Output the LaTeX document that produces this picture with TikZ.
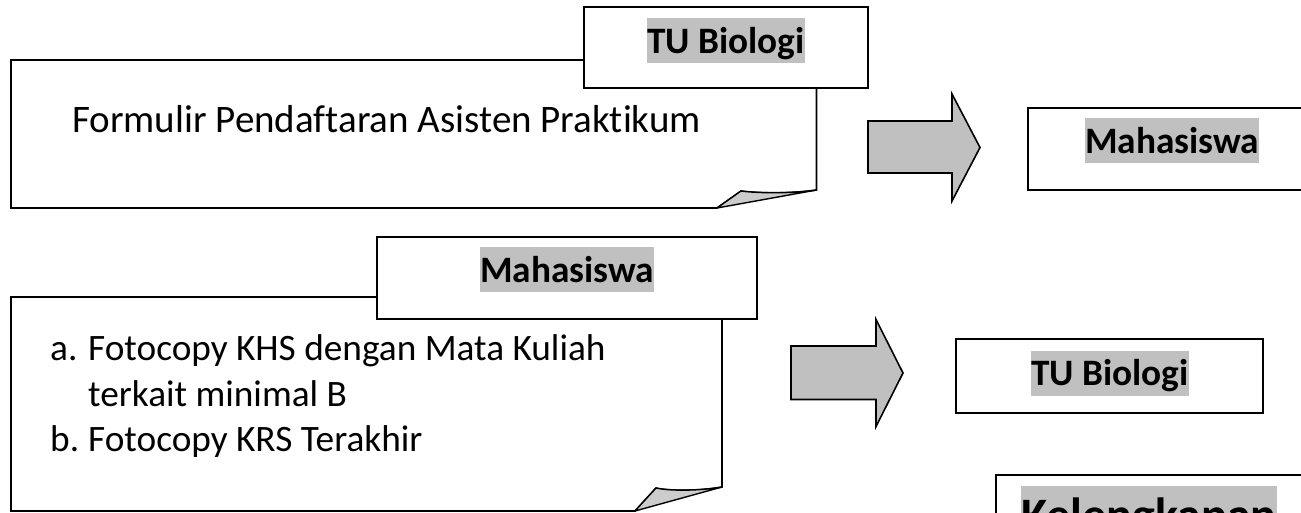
\documentclass[tikz,border=0pt]{standalone}
\usepackage{fontspec}
\setmainfont[Ligatures=CommonOff]{Carlito}
\definecolor{hl}{RGB}{192,192,192}
\definecolor{curl}{RGB}{204,204,204}
\begin{document}
\begin{tikzpicture}[x=1pt,y=-1pt,
  outline/.style={draw=black,line width=1.6pt,line join=miter},
  labelbox/.style={outline,fill=white},
  blockarrow/.style={outline,fill=hl},
  curlfold/.style={draw=black,line width=1.4pt,fill=curl,line join=round},
  hltext/.style={fill=hl,inner sep=0pt,anchor=base west,text height=35pt,text depth=10pt,font=\fontsize{37.3}{45.5}\selectfont\bfseries},
  bodytext/.style={inner sep=0pt,anchor=base west,font=\fontsize{37.3}{45.5}\selectfont}]
\useasboundingbox (0,0) rectangle (1301,512);
\clip (0,0) rectangle (1301,512);
\fill[white] (0,0) rectangle (1301,512);

% callout 1
\draw[outline,fill=white] (11,60) -- (816.5,60) -- (816.5,190)
  .. controls (790,194) and (755,193) .. (741,191) -- (717,208) -- (11,208) -- cycle;
\draw[curlfold] (717,208) -- (741,191) .. controls (755,193) and (790,194) .. (816.5,190) -- cycle;
\node[bodytext,font=\fontsize{39}{47}\selectfont] (formulir) at (72,132.7) {Formulir Pendaftaran Asisten Praktikum};
\draw[labelbox] (584,7) rectangle (868,88);
\node[hltext] (tu1) at (647,53) {TU Biologi};

% arrow 1
\draw[blockarrow] (868,121) -- (952,121) -- (952,94) -- (980,147.5) -- (952,201) -- (952,173) -- (868,173) -- cycle;

% mahasiswa box right
\draw[labelbox] (1028,108) rectangle (1320,190);
\node[hltext] (mhs1) at (1085,153) {Mahasiswa};

% callout 2
\draw[outline,fill=white] (11,297) -- (722,297) -- (722,487)
  .. controls (700,491) and (668,491) .. (656,488) -- (635,511) -- (11,511) -- cycle;
\draw[curlfold] (635,511) -- (656,488) .. controls (668,491) and (700,491) .. (722,487) -- cycle;
\node[bodytext] (la) at (50,360.5) {a.};
\node[bodytext] (la2) at (88,360.5) {Fotocopy KHS dengan Mata Kuliah};
\node[bodytext] (la3) at (88,406) {terkait minimal B};
\node[bodytext] (lb) at (50,451.5) {b.};
\node[bodytext] (lb2) at (88,451.5) {Fotocopy KRS Terakhir};
\draw[labelbox] (377,237) rectangle (757,319);
\node[hltext] (mhs2) at (480,282) {Mahasiswa};

% arrow 2
\draw[blockarrow] (791,346) -- (876,346) -- (876,319.5) -- (903,373) -- (876,426.5) -- (876,399.5) -- (791,399.5) -- cycle;

% TU box right
\draw[labelbox] (956,339) rectangle (1263,413);
\node[hltext] (tu2) at (1031,385.5) {TU Biologi};

% Kelengkapan box
\draw[labelbox] (996,475) rectangle (1330,560);
\node[hltext,text height=45pt,text depth=14pt,font=\fontsize{48}{58}\selectfont\bfseries] (kel) at (1021,531) {Kelengkapan};
\end{tikzpicture}
\end{document}
